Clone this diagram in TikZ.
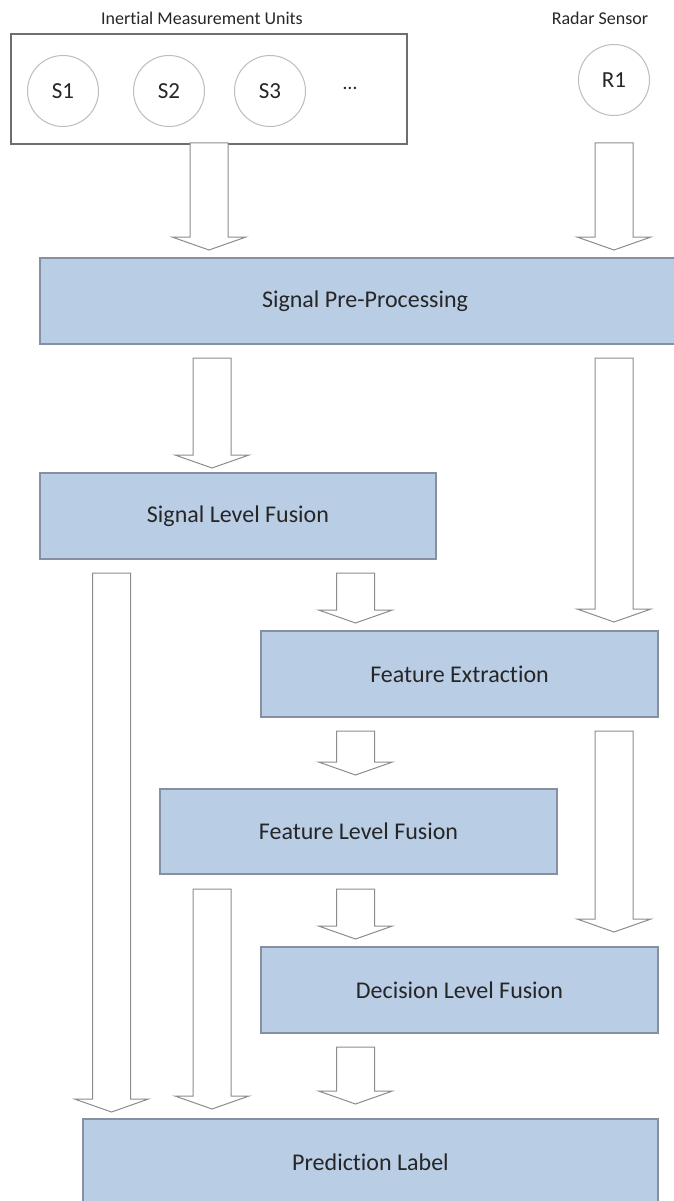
\documentclass[tikz,border=0pt]{standalone}
\usepackage{fontspec}
\setmainfont{Carlito}[Ligatures=NoCommon]
\usetikzlibrary{calc}

\definecolor{boxfill}{HTML}{B9CDE5}
\definecolor{boxline}{HTML}{8591A3}
\definecolor{arrline}{HTML}{8C8C8C}
\definecolor{circline}{HTML}{BDBDBD}
\definecolor{groupline}{HTML}{6E6E6E}
\definecolor{ink}{HTML}{262626}

\tikzset{
  stage/.style={draw=boxline, line width=1.4pt, fill=boxfill, minimum height=86pt,
    inner sep=0pt, text=ink, font=\fontsize{24}{28}\selectfont},
  sensor/.style={circle, draw=circline, line width=1pt, fill=white, minimum size=71pt,
    inner sep=0pt, text=ink, font=\fontsize{23}{26}\selectfont},
  heading/.style={text=ink, font=\fontsize{18}{21}\selectfont, inner sep=0pt},
  flowarrow/.style={draw=arrline, line width=1pt, fill=white, line join=miter},
  group/.style={draw=groupline, line width=1.2pt, fill=white, inner sep=0pt},
}

% hollow block arrow from a tail point down to a tip point (same x)
\newcommand{\blockarrow}[2]{%
  \draw[flowarrow] ($(#1)+(-19,0)$) -- ($(#2)+(-19,-13)$) -- ($(#2)+(-37,-13)$)
    -- (#2) -- ($(#2)+(37,-13)$) -- ($(#2)+(19,-13)$) -- ($(#1)+(19,0)$) -- cycle;}

\begin{document}
\begin{tikzpicture}[x=1pt, y=-1pt]
\useasboundingbox (0,0) rectangle (674,1201);
\clip (0,0) rectangle (674,1201);

% sensors
\node[heading] (imutitle) at (202,18) {Inertial Measurement Units};
\node[heading] (radartitle) at (600,18) {Radar Sensor};
\node[group, minimum width=396pt, minimum height=110pt] (imu) at (209,89) {};
\node[sensor] (s1) at (63,91) {S1};
\node[sensor] (s2) at (169,91) {S2};
\node[sensor] (s3) at (270,91) {S3};
\node[text=ink, font=\fontsize{20}{22}\selectfont] (dots) at (350,88) {\dots};
\node[sensor] (r1) at (614,80) {R1};

% processing stages
\node[stage, minimum width=650pt] (spp) at (365,301) {Signal Pre-Processing};
\node[stage, minimum width=396pt] (slf) at (238,516) {Signal Level Fusion};
\node[stage, minimum width=397pt] (fe)  at (459.5,674) {Feature Extraction};
\node[stage, minimum width=397pt, minimum height=85pt] (flf) at (358.5,831.5) {Feature Level Fusion};
\node[stage, minimum width=397pt] (dlf) at (459.5,990) {Decision Level Fusion};
\node[stage, minimum width=575pt] (pl)  at (370.5,1162) {Prediction Label};

% arrow end points
\coordinate (imu-out)  at (209,143);   \coordinate (spp-in1) at (209,250);
\coordinate (r1-out)   at (614,143);   \coordinate (spp-in2) at (614,250);
\coordinate (spp-out1) at (212,358);   \coordinate (slf-in)  at (212,468);
\coordinate (spp-out2) at (614,358);   \coordinate (fe-in2)  at (614,622);
\coordinate (slf-out1) at (111.5,573); \coordinate (pl-in1)  at (111.5,1112);
\coordinate (slf-out2) at (355.5,573); \coordinate (fe-in1)  at (355.5,623);
\coordinate (fe-out1)  at (355.5,731); \coordinate (flf-in)  at (355.5,775);
\coordinate (fe-out2)  at (614,731);   \coordinate (dlf-in2) at (614,932);
\coordinate (flf-out1) at (212,889);   \coordinate (pl-in2)  at (212,1109);
\coordinate (flf-out2) at (355.5,889); \coordinate (dlf-in1) at (355.5,939);
\coordinate (dlf-out)  at (355.5,1047);\coordinate (pl-in3)  at (355.5,1104);

\blockarrow{imu-out}{spp-in1}
\blockarrow{r1-out}{spp-in2}
\blockarrow{spp-out1}{slf-in}
\blockarrow{spp-out2}{fe-in2}
\blockarrow{slf-out1}{pl-in1}
\blockarrow{slf-out2}{fe-in1}
\blockarrow{fe-out1}{flf-in}
\blockarrow{fe-out2}{dlf-in2}
\blockarrow{flf-out1}{pl-in2}
\blockarrow{flf-out2}{dlf-in1}
\blockarrow{dlf-out}{pl-in3}
\end{tikzpicture}
\end{document}
